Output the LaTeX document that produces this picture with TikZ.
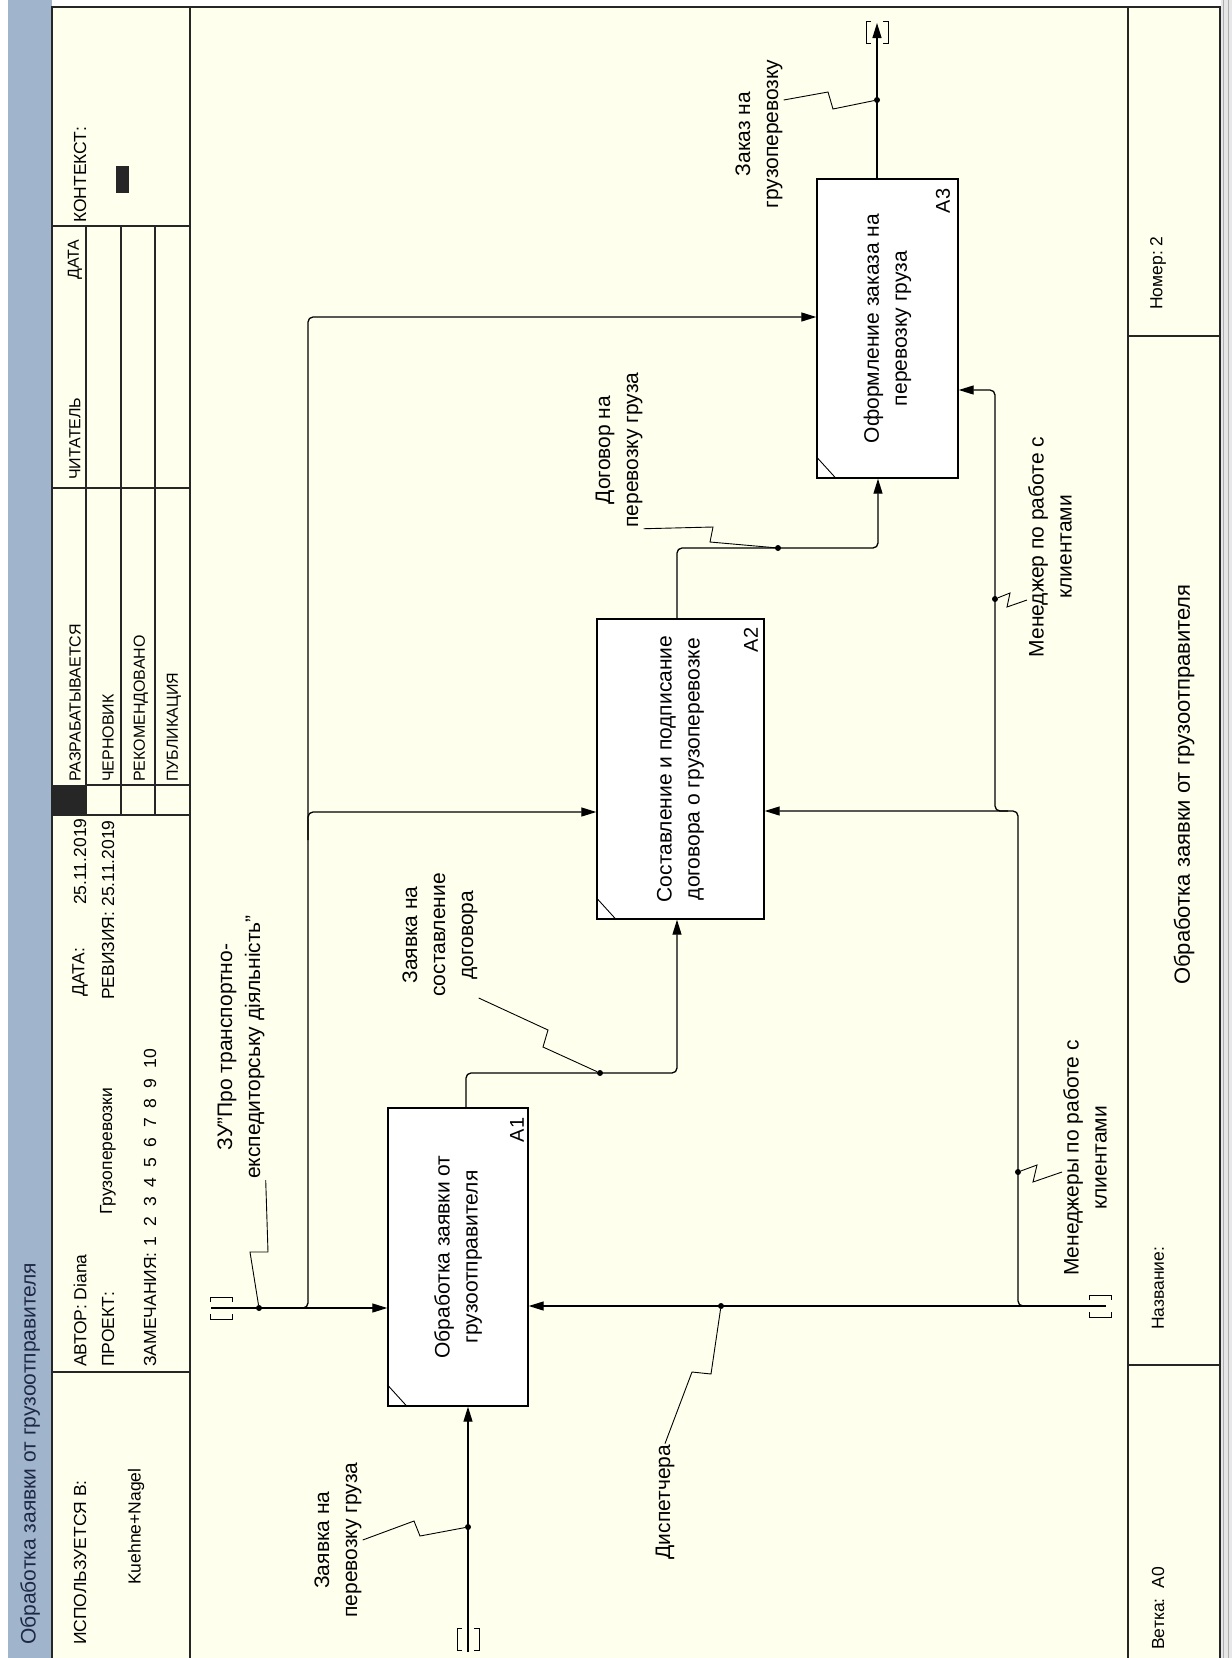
\documentclass[tikz,border=0pt]{standalone}
\usepackage{fontspec}
\setmainfont{Liberation Sans}
\usetikzlibrary{arrows.meta, positioning}

\definecolor{paper}{RGB}{255,255,238}
\definecolor{titlebar}{RGB}{160,180,204}
\definecolor{titleink}{RGB}{30,40,70}
\definecolor{rim}{RGB}{175,175,175}

\newcommand\gap{\hspace{10pt}}

\tikzset{
  gridline/.style={line width=1.3pt, black!85},
  func/.style={draw, fill=white, line width=1.4pt, inner sep=0pt},
  boxtext/.style={rotate=90, align=center, font=\fontsize{21}{28}\selectfont},
  boxnum/.style={rotate=90, font=\fontsize{20}{24}\selectfont},
  arrlbl/.style={rotate=90, align=center, inner sep=1pt, font=\fontsize{21}{28}\selectfont},
  hdr/.style={rotate=90, anchor=west, inner sep=0pt, font=\fontsize{16}{19}\selectfont},
  hdrbig/.style={hdr, font=\fontsize{17.5}{20}\selectfont},
  flow/.style={line width=1.3pt, rounded corners=5pt},
  flowarr/.style={flow, -{Triangle[length=15pt,width=9pt]}},
  squig/.style={line width=0.9pt},
  joint/.style={circle, fill, inner sep=0pt, minimum size=6pt},
  tunv/.pic={\draw[line width=1pt] (-6,-11) -- (-11,-11) -- (-11,11) -- (-6,11)
                                    (6,-11) -- (11,-11) -- (11,11) -- (6,11);},
  tunh/.pic={\draw[line width=1pt] (-11,-6) -- (-11,-11) -- (11,-11) -- (11,-6)
                                    (-11,6) -- (-11,11) -- (11,11) -- (11,6);}
}

\begin{document}
\begin{tikzpicture}[x=1pt,y=-1pt]
\useasboundingbox (0,0) rectangle (1232,1658);
\fill[white] (0,0) rectangle (1232,1658);
\fill[paper] (52,7) rectangle (1220,1658);
\fill[titlebar] (8,0) rectangle (52,1658);
\fill[rim!30] (1221,0) rectangle (1232,1658);
\draw[rim] (1223,0) -- (1223,1658) (1228,0) -- (1228,1658);

% frame and cells
\draw[gridline] (52,1658) -- (52,7) -- (1220,7) -- (1220,1658);
\draw[gridline] (190,7) -- (190,1658) (1128,7) -- (1128,1658);
\draw[gridline] (52,226) -- (190,226) (52,488) -- (190,488)
                (52,815) -- (190,815) (52,1372) -- (190,1372);
\foreach \x in {86,121,155} \draw[gridline] (\x,226) -- (\x,815);
\draw[gridline] (86,785) -- (190,785);
\fill[black!85] (52,785) rectangle (86,815);
\fill[black!85] (116,166) rectangle (129,193);
\draw[gridline] (1128,336) -- (1220,336) (1128,1365) -- (1220,1365);

% header texts
\node[hdr, font=\fontsize{21}{24}\selectfont, text=titleink] (ttl) at (30,1645) {Обработка заявки от грузоотправителя};
\node[hdrbig] (ctx) at (80,223) {КОНТЕКСТ:};
\node[hdr] (rdate) at (75,280) {ДАТА};
\node[hdr] (reader) at (75,480) {ЧИТАТЕЛЬ};
\node[hdr] (st1) at (75,782) {РАЗРАБАТЫВАЕТСЯ};
\node[hdr] (st2) at (108,782) {ЧЕРНОВИК};
\node[hdr] (st3) at (141,782) {РЕКОМЕНДОВАНО};
\node[hdr] (st4) at (174,782) {ПУБЛИКАЦИЯ};
\node[hdrbig] (author) at (80,1367) {АВТОР:\ Diana};
\node[hdrbig] (date) at (80,997) {ДАТА:};
\node[hdrbig] (dateval) at (80,905) {25.11.2019};
\node[hdrbig] (proj) at (108,1367) {ПРОЕКТ:};
\node[hdrbig] (projval) at (108,1215) {Грузоперевозки};
\node[hdrbig] (rev) at (108,1000) {РЕВИЗИЯ:\ 25.11.2019};
\node[hdrbig] (notes) at (150,1367) {ЗАМЕЧАНИЯ:\hspace{6pt}1\gap2\gap3\gap4\gap5\gap6\gap7\gap8\gap9\gap10};
\node[hdrbig] (used) at (80,1645) {ИСПОЛЬЗУЕТСЯ В:};
\node[hdrbig] (usedval) at (136,1585) {Kuehne+Nagel};

% footer texts
\node[hdrbig] (num) at (1158,310) {Номер:\ 2};
\node[hdrbig] (name) at (1158,1330) {Название:};
\node[hdr, font=\fontsize{22}{24}\selectfont] (nameval) at (1184,985) {Обработка заявки от грузоотправителя};
\node[hdrbig] (branch) at (1158,1650) {Ветка:\ \ A0};

% activities
\node[func, minimum width=140pt, minimum height=298pt] (A1) at (458,1257) {};
\node[func, minimum width=167pt, minimum height=300pt] (A2) at (680.5,769) {};
\node[func, minimum width=141pt, minimum height=299pt] (A3) at (887.5,328.5) {};
\node[boxtext] at (A1) {Обработка заявки от\\грузоотправителя};
\node[boxtext] at (A2) {Составление и подписание\\договора о грузоперевозке};
\node[boxtext] at (A3) {Оформление заказа на\\перевозку груза};
\node[boxnum] (n1) at (517,1130) {A1};
\node[boxnum] (n2) at (751,640) {A2};
\node[boxnum] (n3) at (943,201) {A3};
\foreach \b in {A1,A2,A3}
  \draw[line width=0.9pt] ([yshift=22pt]\b.south west) -- ([xshift=20pt]\b.south west);

% input of A1
\coordinate (i1) at (468,1652);
\draw[flowarr] (i1) -- (i1 |- A1.south);
\pic at (468,1639) {tunv};
\node[joint] (d1) at (468,1527) {};
\node[arrlbl] (l1) at (338,1540) {Заявка на\\перевозку груза};
\draw[squig] (l1.south) -- (414,1521) -- (420,1536) -- (d1);

% control from the law
\coordinate (c0) at (211,1308);
\pic at (221,1308) {tunh};
\draw[flowarr] (c0) -- (A1.west |- c0);
\node[joint] (d2) at (259,1308) {};
\node[arrlbl] (l2) at (241,1047) {ЗУ"Про транспортно-\\експедиторську діяльність"};
\draw[squig] (l2.south west) -- (268,1252) -- (250,1252) -- (d2);
\coordinate (cj) at (308,1308);
\draw[flowarr] ([xshift=-10pt]cj) -- (cj) |- (A3.west |- 0,317);
\coordinate (cb) at (308,840);
\draw[flowarr] (cb) |- (A2.west |- 0,812);

% mechanism
\coordinate (m0) at (1106,1306);
\pic at (1100,1306) {tunh};
\draw[flowarr] (m0) -- (A1.east |- m0);
\node[joint] (d3) at (721,1306) {};
\node[arrlbl] (l3) at (665,1502) {Диспетчера};
\draw[squig] (l3.east) -- (692,1372) -- (711,1374) -- (d3);
\coordinate (mj) at (1030,1306);
\draw[flowarr] (mj) -| (1018,1000) |- (A2.east |- 0,811);
\coordinate (mb) at (1008,811);
\draw[flowarr] (mb) -| (995,700) |- (A3.east |- 0,390);
\node[joint] (d4) at (1018,1172) {};
\node[arrlbl] (l4) at (1085,1158) {Менеджеры по работе с\\клиентами};
\draw[squig] (d4) -- (1037,1165) -- (1033,1182) -- ([yshift=-14pt]l4.north);
\node[joint] (d5) at (995,599) {};
\node[arrlbl] (l5) at (1050,547) {Менеджер по работе с\\клиентами};
\draw[squig] (d5) -- (1010,593) -- (1007,607) -- ([yshift=-53pt]l5.north);

% A1 -> A2
\draw[flowarr] (A1.north -| 466,0) |- (677,1073) -- (A2.south -| 677,0);
\node[joint] (d6) at (600,1073) {};
\node[arrlbl] (l6) at (440,935) {Заявка на\\составление\\договора};
\draw[squig] (l6.south west) -- (548,1030) -- (543,1047) -- (d6);

% A2 -> A3
\draw[flowarr] (A2.north -| 677,0) |- (878,548) -- (A3.south -| 878,0);
\node[joint] (d7) at (778,548) {};
\node[arrlbl] (l7) at (619,450) {Договор на\\перевозку груза};
\draw[squig] (l7.south west) -- (713,527) -- (710,542) -- (d7);

% output of A3
\coordinate (o3) at (877,23);
\draw[flowarr] (A3.north -| o3) -- (o3);
\pic at (877,32) {tunv};
\node[joint] (d8) at (877,100) {};
\node[arrlbl] (l8) at (759,134) {Заказ на\\грузоперевозку};
\draw[squig] ([yshift=34pt]l8.south) -- (828,92) -- (833,109) -- (d8);
\end{tikzpicture}
\end{document}
